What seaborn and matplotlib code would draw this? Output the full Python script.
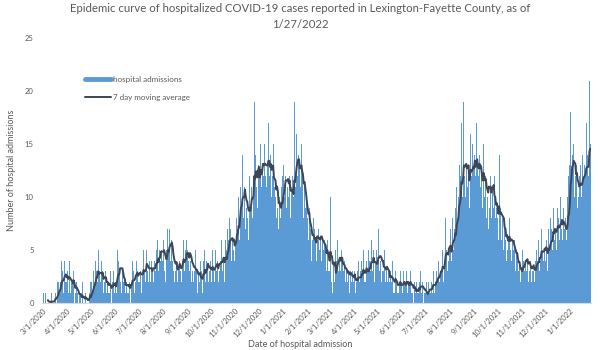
import numpy as np
import pandas as pd
import matplotlib
matplotlib.use("Agg")
import matplotlib.pyplot as plt
import matplotlib.dates as mdates
from matplotlib.lines import Line2D
import seaborn as sns

# ---------------- data (daily hospital admissions) ----------------
start_date = "2020-03-01"
mar20 = [1,0,0,1,0,0,0, 0,0,0,0,1,0,0, 0,1,1,0,2,1,2, 1,2,4,2,3,1,4, 2,3,2]
apr20 = [3,1,2,4,1,2,2, 1,3,0,1,2,1,1, 0,1,0,1,0,2,0, 0,0,1,0,0,1,0, 1,2]
may20 = [0,2,1,3,2,2,4, 3,2,5,1,3,2,4, 2,3,1,2,3,2,1, 2,1,2,1,3,0,2, 2,3,1]
jun20 = [2,1,3,5,4,3,5, 2,1,3,2,1,2,1, 2,1,3,1,2,0,3, 2,4,3,1,3,2,4, 3,2]
jul20 = [4,2,3,1,4,3,5, 3,2,4,5,3,2,4, 3,2,4,3,5,2,4, 3,5,4,6,3,5,4, 7,5,4]
aug20 = [6,4,3,2,5,7,8, 5,7,4,3,6,4,3, 2,5,3,4,2,3,5, 4,3,2,5,4,6,3, 5,4,6]
sep20 = [5,4,3,6,4,2,3, 4,2,3,5,3,2,1, 3,2,4,2,3,1,4, 3,5,2,4,3,5,2, 3,4]
oct20 = [2,3,5,3,2,4,5, 3,4,2,5,3,4,6, 3,5,4,2,6,4,5, 7,6,8,5,7,4,6, 5,7,4]
nov20 = [6,8,9,7,10,6,11, 12,9,14,8,10,11,7, 9,8,10,6,12,9,11, 13,8,12,19,10,14,11, 9,13]
dec20 = [14,12,15,11,13,14,12, 15,12,14,11,13,17,12, 11,14,10,12,15,9,11, 10,8,12,9,7,10,8, 9,11,12]
jan21 = [13,10,14,12,9,11,13, 10,12,8,11,9,12,10, 19,11,13,16,12,14,10, 13,11,15,12,10,8,11, 9,7,10]
feb21 = [8,6,9,5,7,4,6, 8,5,7,6,4,8,6, 7,5,6,8,4,6,5, 6,4,5,3,6,4,3]
mar21 = [3,10,2,3,1,4,2, 5,3,4,6,3,5,4, 3,5,4,2,3,4,2, 3,4,2,3,1,4,3, 2,3,2]
apr21 = [2,3,1,2,3,2,4, 2,3,1,4,3,5,2, 3,2,4,3,2,5,4, 3,6,4,3,5,2,4, 3,5]
may21 = [4,7,5,3,4,2,3, 4,3,5,2,3,4,2, 3,2,1,3,2,4,1, 2,1,3,2,1,2,1, 2,3,1]
jun21 = [2,1,3,2,1,2,3, 1,2,1,2,3,1,2, 1,0,2,1,1,2,1, 1,2,1,3,1,2,1, 0,1]
jul21 = [1,2,0,1,2,1,2, 1,2,1,3,2,1,2, 3,2,3,4,2,3,4, 3,5,2,4,6,8,5, 3,4,6]
aug21 = [5,7,4,6,8,5,7, 9,6,11,8,10,13,9, 12,17,10,11,19,12,10, 13,14,11,12,9,16,13, 12,15,13]
sep21 = [11,14,12,17,13,10,12, 14,11,13,12,9,15,10, 11,12,8,10,7,19,9, 12,8,11,10,9,12,8, 7,9]
oct21 = [8,6,14,7,9,6,8, 7,5,8,6,4,7,5, 6,8,5,7,4,6,5, 4,6,3,5,4,2,3, 4,2,3]
nov21 = [3,5,4,3,6,4,3, 4,2,5,3,4,2,3, 5,3,2,4,3,5,4, 6,3,5,4,7,5,4, 6,5]
dec21 = [4,6,5,3,7,5,8, 6,7,5,9,6,8,7, 5,9,7,8,6,10,7, 8,6,9,7,5,8,6, 10,12,11]
jan22 = [13,18,12,14,11,15,10, 12,11,13,9,10,12,11, 13,10,14,12,11,13,12, 17,11,14,12,21,15]

tick_labels = ["3/1/2020", "4/1/2020", "5/1/2020", "6/1/2020", "7/1/2020", "8/1/2020",
               "9/1/2020", "10/1/2020", "11/1/2020", "12/1/2020", "1/1/2021", "2/1/2021",
               "3/1/2021", "4/1/2021", "5/1/2021", "6/1/2021", "7/1/2021", "8/1/2021",
               "9/1/2021", "10/1/2021", "11/1/2021", "12/1/2021", "1/1/2022"]

title = "Epidemic curve of hospitalized COVID-19 cases reported in Lexington-Fayette County, as of\n1/27/2022"
bar_label = "hospital admissions"
line_label = "7 day moving average"
x_title = "Date of hospital admission"
y_title = "Number of hospital admissions"

# ---------------- build table ----------------
admissions = (mar20 + apr20 + may20 + jun20 + jul20 + aug20 + sep20 + oct20 + nov20 + dec20
              + jan21 + feb21 + mar21 + apr21 + may21 + jun21 + jul21 + aug21 + sep21 + oct21
              + nov21 + dec21 + jan22)
dates = pd.date_range(start_date, periods=len(admissions), freq="D")
df = pd.DataFrame({"date": dates, "admissions": admissions})
df["x"] = mdates.date2num(df["date"])
df["ma7"] = df["admissions"].rolling(7).mean()

# ---------------- plot ----------------
sns.set_theme(style="white")
plt.rcParams["font.family"] = ["Lato", "DejaVu Sans"]

fig = plt.figure(figsize=(6, 3.5), dpi=100)
ax = fig.add_axes([0.07, 0.134, 0.915, 0.757])

bar_color = "#5B9BD5"
line_color = "#3E4553"
text_color = "#595959"

sns.barplot(data=df, x="x", y="admissions", native_scale=True, width=1.0,
            color=bar_color, saturation=1, edgecolor="none", linewidth=0, ax=ax,
            errorbar=None)
sns.lineplot(data=df, x="x", y="ma7", color=line_color, linewidth=1.4, ax=ax)

ax.set_ylim(0, 25)
ax.set_yticks([0, 5, 10, 15, 20, 25])
ax.set_xlim(df["x"].iloc[0] - 1.5, df["x"].iloc[-1] + 1.0)

tick_pos = mdates.date2num(pd.to_datetime(tick_labels, format="%m/%d/%Y"))
ax.set_xticks(tick_pos)
ax.set_xticklabels(tick_labels, rotation=45, ha="right", rotation_mode="anchor",
                   fontsize=5.5, color=text_color)
ax.tick_params(axis="y", labelsize=5.5, labelcolor=text_color, length=0, pad=6)
ax.tick_params(axis="x", length=0, pad=3)

for s in ["top", "right", "left"]:
    ax.spines[s].set_visible(False)
ax.spines["bottom"].set_color("#D9D9D9")
ax.spines["bottom"].set_linewidth(0.8)

ax.set_xlabel("")
ax.set_ylabel(y_title, fontsize=6.5, color=text_color, labelpad=6)
fig.text(0.5, 0.002, x_title, ha="center", va="bottom",
         fontsize=6.5, color=text_color)

fig.suptitle(title, fontsize=8.2, color=text_color, y=0.99, linespacing=1.45)

handles = [Line2D([0], [0], color=bar_color, lw=3.5),
           Line2D([0], [0], color=line_color, lw=1.4)]
leg = ax.legend(handles, [bar_label, line_label], loc="upper left",
                bbox_to_anchor=(0.065, 0.885), frameon=False, fontsize=5.8,
                handlelength=3.2, handletextpad=0.3, labelspacing=1.4)
for t in leg.get_texts():
    t.set_color(text_color)

fig.savefig("out.png", dpi=100)
